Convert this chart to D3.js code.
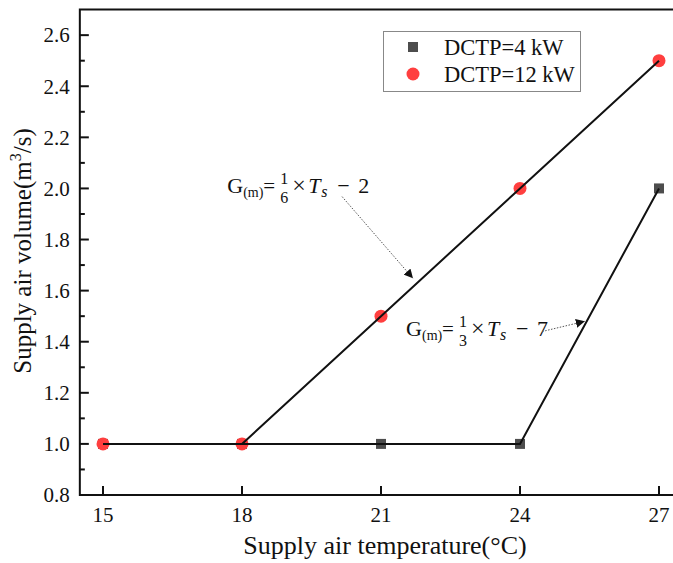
<!DOCTYPE html>
<html>
<head>
<meta charset="utf-8">
<script src="https://d3js.org/d3.v7.min.js"></script>
<style>
  html, body { margin: 0; background: #fff; overflow: hidden; }
  svg { display: block; }
  text { font-family: "Liberation Serif", "Times New Roman", serif; fill: #111; }
</style>
</head>
<body>
<script>
// data
const temps = [15, 18, 21, 24, 27];
const dctp4 = [1.0, 1.0, 1.0, 1.0, 2.0];
const dctp12 = [1.0, 1.0, 1.5, 2.0, 2.5];
const seriesNames = ["DCTP=4 kW", "DCTP=12 kW"];
const yTicks = [0.8, 1.0, 1.2, 1.4, 1.6, 1.8, 2.0, 2.2, 2.4, 2.6];
// annotations: text anchor, arrow start, arrow end (data units)
const annoFrac = ["6", "3"];
const annoConst = ["2", "7"];
const annoText = [[17.68, 1.984], [21.54, 1.421]];
const annoFrom = [[20.16, 1.968], [24.48, 1.44]];
const annoTo = [[21.69, 1.648], [25.40, 1.48]];

const W = 673, H = 563;
const pxPerUnit = 556 / 12;
const x = d3.scaleLinear().domain([14.5, 27.5]).range([103 - 0.5 * pxPerUnit, 103 + 12.5 * pxPerUnit]);
const y = d3.scaleLinear().domain([0.8, 2.7]).range([495, 9.6]);

const svg = d3.select("body").append("svg").attr("width", W).attr("height", H);

svg.append("defs").append("marker")
  .attr("id", "ah").attr("viewBox", "0 0 10 10").attr("refX", 10).attr("refY", 5)
  .attr("markerWidth", 9).attr("markerHeight", 9).attr("markerUnits", "userSpaceOnUse")
  .attr("orient", "auto")
  .append("path").attr("d", "M0,0 L10,5 L0,10 z").attr("fill", "#111");

// frame (right side falls outside the picture)
const x0 = x.range()[0], x1 = x.range()[1], yb = y(0.8), yt = y(2.7);
svg.append("path").attr("d", `M${x1},${yt} H${x0} V${yb} H${x1}`)
  .attr("fill", "none").attr("stroke", "#111").attr("stroke-width", 2);

// y ticks (inward)
const yAxis = svg.append("g").attr("transform", `translate(${x0},0)`);
yTicks.forEach(t => {
  yAxis.append("line").attr("x1", 0).attr("x2", 9).attr("y1", y(t)).attr("y2", y(t))
    .attr("stroke", "#111").attr("stroke-width", 2);
  yAxis.append("text").attr("x", -10).attr("y", y(t)).attr("dy", "0.35em")
    .attr("text-anchor", "end").attr("font-size", 21).text(d3.format(".1f")(t));
});
d3.range(0.9, 2.7, 0.2).forEach(t => {
  yAxis.append("line").attr("x1", 0).attr("x2", 5).attr("y1", y(t)).attr("y2", y(t))
    .attr("stroke", "#111").attr("stroke-width", 2);
});

// x ticks (inward)
const xAxis = svg.append("g").attr("transform", `translate(0,${yb})`);
temps.forEach(t => {
  xAxis.append("line").attr("x1", x(t)).attr("x2", x(t)).attr("y1", 0).attr("y2", -9)
    .attr("stroke", "#111").attr("stroke-width", 2);
  xAxis.append("text").attr("x", x(t)).attr("y", 20).attr("dy", "0.35em")
    .attr("text-anchor", "middle").attr("font-size", 21).text(t);
});

// axis titles
svg.append("text").attr("x", 385).attr("y", 554).attr("text-anchor", "middle")
  .attr("font-size", 26).text("Supply air temperature(°C)");
const yt_ = svg.append("text").attr("transform", "translate(31,251) rotate(-90)")
  .attr("text-anchor", "middle").attr("font-size", 25);
yt_.append("tspan").text("Supply air volume(m");
yt_.append("tspan").attr("font-size", 16).attr("dy", -10).text("3");
yt_.append("tspan").attr("dy", 10).text("/s)");

// markers
const sq = 10, cr = 6.5;
const d4 = temps.map((t, i) => [t, dctp4[i]]);
const d12 = temps.map((t, i) => [t, dctp12[i]]);
svg.selectAll(".sq").data(d4).join("rect")
  .attr("x", d => x(d[0]) - sq / 2).attr("y", d => y(d[1]) - sq / 2)
  .attr("width", sq).attr("height", sq).attr("fill", "#4d4d4d");
svg.selectAll(".ci").data(d12).join("circle")
  .attr("cx", d => x(d[0])).attr("cy", d => y(d[1])).attr("r", cr).attr("fill", "#ff3f3f");

// lines
const line = d3.line().x(d => x(d[0])).y(d => y(d[1]));
[d4, d12].forEach(d => {
  svg.append("path").datum(d).attr("d", line).attr("fill", "none")
    .attr("stroke", "#111").attr("stroke-width", 2);
});

// annotations
annoText.forEach((p, i) => {
  const ax = x(p[0]), ay = y(p[1]);
  const g = svg.append("g").attr("transform", `translate(${ax},${ay})`);
  g.append("text").attr("x", 0).attr("font-size", 22).text("G");
  g.append("text").attr("x", 16).attr("y", 4).attr("font-size", 14).text("(m)");
  g.append("text").attr("x", 36).attr("font-size", 21).text("=");
  g.append("text").attr("x", 57).attr("y", -9).attr("text-anchor", "middle").attr("font-size", 16).text("1");
  g.append("text").attr("x", 57).attr("y", 10).attr("text-anchor", "middle").attr("font-size", 16).text(annoFrac[i]);
  g.append("text").attr("x", 65).attr("font-size", 24).text("×");
  g.append("text").attr("x", 81).attr("font-size", 22).attr("font-style", "italic").text("T");
  g.append("text").attr("x", 94).attr("y", 4).attr("font-size", 16).attr("font-style", "italic").text("s");
  g.append("text").attr("x", 110).attr("font-size", 22).text("−");
  g.append("text").attr("x", 131).attr("font-size", 22).text(annoConst[i]);

  svg.append("line")
    .attr("x1", x(annoFrom[i][0])).attr("y1", y(annoFrom[i][1]))
    .attr("x2", x(annoTo[i][0])).attr("y2", y(annoTo[i][1]))
    .attr("stroke", "#555").attr("stroke-width", 1).attr("stroke-dasharray", "1.5,1.5")
    .attr("marker-end", "url(#ah)");
});

// legend
const lg = svg.append("g");
lg.append("rect").attr("x", 383.5).attr("y", 31.5).attr("width", 197).attr("height", 60)
  .attr("fill", "#fff").attr("stroke", "#888").attr("stroke-width", 1);
lg.append("rect").attr("x", 413 - sq / 2).attr("y", 47 - sq / 2).attr("width", sq).attr("height", sq).attr("fill", "#4d4d4d");
lg.append("circle").attr("cx", 413).attr("cy", 74).attr("r", cr).attr("fill", "#ff3f3f");
seriesNames.forEach((n, i) => {
  lg.append("text").attr("x", 444).attr("y", 47 + i * 27).attr("dy", "0.35em")
    .attr("font-size", 22.5).text(n);
});
</script>
</body>
</html>
